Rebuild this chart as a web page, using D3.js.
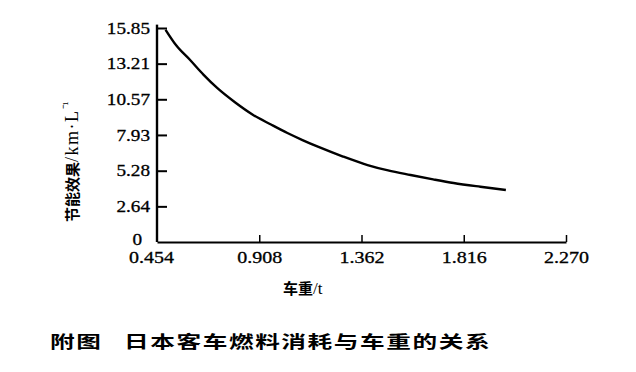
<!DOCTYPE html>
<html>
<head>
<meta charset="utf-8">
<script src="https://cdn.jsdelivr.net/npm/d3@7"></script>
<style>
  body { margin: 0; background: #fff; }
  .tick text { font-family: "Liberation Serif", "DejaVu Serif", serif; font-size: 16px; fill: #000; stroke: #000; stroke-width: 0.3; }
  .cjk { font-family: "Noto Sans CJK SC", sans-serif; font-weight: bold; fill: #000; }
  .unit { font-family: "Liberation Serif", serif; font-weight: normal; }
</style>
</head>
<body>
<div id="chart"></div>
<script>
// car weight (t) vs fuel economy (km/L)
const weights = [0.492, 0.54, 0.601, 0.66, 0.721, 0.80, 0.881, 0.96, 1.033, 1.10, 1.171, 1.28, 1.389, 1.48, 1.580, 1.68, 1.771, 1.89, 2.003]
const economy = [15.72, 14.55, 13.48, 12.40, 11.41, 10.35, 9.41, 8.70, 8.07, 7.55, 7.04, 6.33, 5.70, 5.30, 4.96, 4.64, 4.37, 4.09, 3.85]
const xTicks = [0.454, 0.908, 1.362, 1.816, 2.270]
const yTicks = [0, 2.64, 5.28, 7.93, 10.57, 13.21, 15.85]

const width = 636, height = 372

const svg = d3.select("#chart").append("svg")
    .attr("width", width)
    .attr("height", height)

const x = d3.scaleLinear().domain([0.454, 2.270]).range([157, 566])
const y = d3.scaleLinear().domain([0, 15.85]).range([242, 28])

// x axis, ticks pointing inward (up)
const xAxis = svg.append("g")
    .attr("transform", `translate(0, ${y(0)})`)
    .call(d3.axisBottom(x)
        .tickValues(xTicks)
        .tickFormat(d3.format(".3f"))
        .tickSizeInner(-7)
        .tickSizeOuter(0)
        .tickPadding(10))
xAxis.select(".domain").attr("stroke", "#000").attr("stroke-width", 2.2)
xAxis.selectAll(".tick line").attr("stroke-width", 1.5)
xAxis.selectAll(".tick text").attr("transform", "scale(1.25,1)")
xAxis.selectAll(".tick").filter(d => d === 0.454).select("line").remove()
xAxis.selectAll(".tick").filter(d => d === 0.454).select("text").attr("transform", "translate(-6,0) scale(1.25,1)")

// y axis
const yAxis = svg.append("g")
    .attr("transform", `translate(${x(0.454)}, 0)`)
    .call(d3.axisLeft(y)
        .tickValues(yTicks)
        .tickFormat(d => d === 0 ? "0" : d.toFixed(2))
        .tickSizeInner(-10)
        .tickSizeOuter(0)
        .tickPadding(0))
yAxis.select(".domain").attr("stroke", "#000").attr("stroke-width", 2.4)
    .attr("d", `M0,${y(0)}V${y(16.1)}`)
yAxis.selectAll(".tick line").attr("stroke-width", 2)
yAxis.selectAll(".tick text").attr("x", 0).attr("transform", "translate(-7,0) scale(1.2,1)")
yAxis.selectAll(".tick").filter(d => d === 0).select("line").remove()
yAxis.selectAll(".tick").filter(d => d === 0).select("text").attr("transform", "translate(-15,-3) scale(1.2,1)")

// curve
const line = d3.line()
    .x((d, i) => x(weights[i]))
    .y(d => y(d))
    .curve(d3.curveMonotoneX)

svg.append("path")
    .datum(economy)
    .attr("fill", "none")
    .attr("stroke", "#000")
    .attr("stroke-width", 2.4)
    .attr("d", line)

// axis labels
const yLabel = svg.append("text")
    .attr("class", "cjk")
    .attr("transform", "translate(78, 222) rotate(-90)")
    .attr("font-size", 15)
yLabel.append("tspan").text("节能效果")
yLabel.append("tspan").attr("class", "unit").attr("font-size", 18).attr("letter-spacing", 1.5).text("/km·L")
yLabel.append("tspan").attr("class", "unit").attr("font-size", 13).attr("dy", -7).text("⁻¹")

const xLabel = svg.append("text")
    .attr("class", "cjk")
    .attr("x", 283)
    .attr("y", 294)
    .attr("font-size", 15)
xLabel.append("tspan").text("车重")
xLabel.append("tspan").attr("class", "unit").attr("font-size", 17).text("/t")

// figure caption
svg.append("text")
    .attr("class", "cjk")
    .attr("transform", "translate(50, 348) scale(1.45,1)")
    .attr("font-size", 17)
    .attr("letter-spacing", 1.1)
    .attr("xml:space", "preserve")
    .style("white-space", "pre")
    .text("附图   日本客车燃料消耗与车重的关系")
</script>
</body>
</html>
